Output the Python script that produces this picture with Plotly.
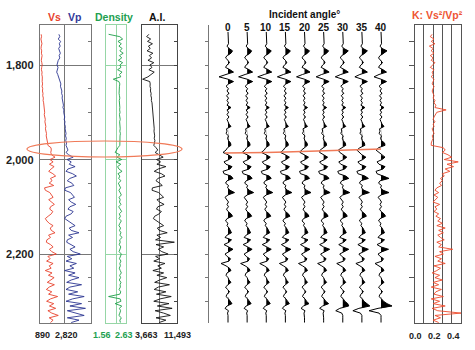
import plotly.graph_objects as go

# ---------------- data ----------------
log_depth = list(range(1735, 2350, 5))      # m, 123 samples
trace_depth = list(range(1730, 2350, 5))    # m, 124 samples

vs = [980, 1010, 960, 1000, 1040, 990, 970, 1020, 1000, 1050,
      1010, 990, 1030, 1060, 1020, 1000, 1050, 1030, 1070, 1040,
      1060, 1090, 1050, 1100, 1080, 1120, 1100, 1150, 1130, 1170,
      1200, 1180, 1230, 1250, 1220, 1280, 1300, 1270, 1320, 1340,
      1310, 1360, 1390, 1370, 1420, 1450, 1480, 1500, 1740, 1760,
      1720, 1780, 2050, 1660, 1900, 1620, 1980, 1750, 1560, 1880,
      2100, 1700, 1820, 1600, 1950, 1240, 1300, 1650, 1780, 1900,
      1560, 1820, 2000, 1700, 1640, 1880, 1760, 1520, 1300, 1420,
      1600, 1900, 1680, 1760, 2050, 1550, 1700, 1420, 1380, 1700,
      1900, 1620, 1800, 2150, 1500, 1680, 1400, 1900, 1600, 1750,
      1300, 1820, 1540, 1980, 1700, 1450, 2000, 1600, 1380, 1800,
      1550, 2250, 1700, 1400, 1950, 1620, 2100, 1500, 1800, 2300,
      1600, 1900, 1700]

vp = [2350, 2420, 2300, 2480, 2380, 2450, 2330, 2400, 2460, 2370,
      2420, 2300, 2250, 2200, 2280, 2230, 2180, 2260, 2320, 2400,
      2450, 2500, 2470, 2540, 2580, 2560, 2620, 2600, 2650, 2680,
      2700, 2660, 2740, 2720, 2780, 2800, 2760, 2820, 2790, 2850,
      2830, 2870, 2900, 2860, 2920, 2880, 2940, 2900, 2950, 3050,
      2900, 3100, 3450, 2980, 3300, 3150, 3600, 3050, 2900, 3400,
      3700, 3200, 3000, 3350, 3500, 2850, 2800, 3250, 3400, 3550,
      3100, 3300, 3650, 3200, 3050, 3450, 3300, 2900, 2800, 3100,
      3350, 3600, 3150, 3300, 3900, 3100, 3400, 3000, 2950, 3300,
      3600, 3200, 3450, 4000, 3000, 3350, 2900, 3700, 3200, 3500,
      2800, 3600, 3100, 3900, 3300, 2950, 4100, 3200, 2900, 3800,
      3100, 4300, 3400, 2900, 4100, 3200, 4400, 3000, 3700, 4300,
      3000, 3900, 3300]

density = [1.70, 2.30, 2.45, 2.20, 2.38, 2.25, 2.42, 2.30, 2.48, 2.28,
           2.40, 2.22, 2.45, 2.30, 2.36, 2.18, 2.42, 2.28, 2.35, 1.95,
           2.25, 2.30, 2.28, 2.27, 2.29, 2.26, 2.28, 2.30, 2.27, 2.29,
           2.28, 2.30, 2.29, 2.31, 2.28, 2.30, 2.32, 2.29, 2.31, 2.30,
           2.32, 2.30, 2.33, 2.31, 2.30, 2.32, 2.31, 2.30, 2.20, 2.12,
           2.05, 2.30, 2.15, 2.40, 2.10, 2.35, 2.18, 2.25, 2.42, 2.20,
           2.30, 2.24, 2.36, 2.22, 2.28, 2.34, 2.25, 2.30, 2.38, 2.26,
           2.32, 2.28, 2.36, 2.24, 2.30, 2.40, 2.27, 2.33, 2.26, 2.38,
           2.30, 2.25, 2.34, 2.28, 2.36, 2.30, 2.42, 2.29, 2.32, 2.27,
           2.35, 2.30, 2.26, 2.38, 2.31, 2.28, 2.36, 2.30, 2.33, 2.27,
           2.32, 2.38, 2.29, 2.34, 2.27, 2.36, 2.31, 2.33, 2.26, 2.35,
           2.30, 1.70, 2.32, 2.36, 2.05, 2.40, 2.28, 2.34, 2.30, 2.25,
           2.38, 2.30, 2.33]

ai = [5200, 4700, 5600, 4900, 6000, 5100, 5500, 4800, 6100, 5300,
      5800, 5000, 6300, 5400, 5900, 5200, 6400, 5600, 5000, 3800,
      5400, 5500, 5450, 5600, 5550, 5700, 5650, 5800, 5750, 5900,
      5950, 6000, 6100, 6050, 6200, 6150, 6300, 6250, 6350, 6300,
      6400, 6350, 6450, 6500, 6400, 6550, 6450, 6300, 6800, 7200,
      6600, 7500, 8400, 6900, 7800, 7000, 9000, 7300, 6400, 8000,
      8800, 7200, 6800, 7600, 8200, 6000, 5900, 7400, 7900, 8500,
      7000, 7600, 8600, 7200, 6900, 8000, 7500, 6500, 6200, 7000,
      7700, 8500, 7100, 7500, 9300, 7000, 7800, 6700, 10900, 6800,
      8500, 7300, 8100, 9500, 6700, 7600, 6300, 8800, 7200, 8000,
      6100, 8500, 7000, 9200, 7600, 6500, 9800, 7300, 6400, 9000,
      6900, 10200, 7700, 6300, 9700, 7100, 10400, 6600, 8500, 10000,
      6800, 9000, 7500]

k_ratio = [0.19, 0.17, 0.21, 0.18, 0.22, 0.16, 0.20, 0.18, 0.21, 0.17,
           0.20, 0.18, 0.22, 0.19, 0.17, 0.21, 0.19, 0.20, 0.18, 0.21,
           0.20, 0.19, 0.21, 0.20, 0.19, 0.20, 0.21, 0.20, 0.22, 0.21,
           0.23, 0.22, 0.34, 0.24, 0.22, 0.21, 0.20, 0.22, 0.20, 0.21,
           0.19, 0.20, 0.21, 0.19, 0.20, 0.19, 0.18, 0.18, 0.31, 0.33,
           0.30, 0.36, 0.40, 0.32, 0.47, 0.35, 0.42, 0.33, 0.38, 0.30,
           0.32, 0.28, 0.30, 0.27, 0.29, 0.24, 0.22, 0.26, 0.21, 0.25,
           0.23, 0.20, 0.27, 0.22, 0.24, 0.21, 0.26, 0.23, 0.28, 0.25,
           0.30, 0.24, 0.33, 0.26, 0.31, 0.25, 0.28, 0.32, 0.24, 0.29,
           0.26, 0.41, 0.27, 0.31, 0.22, 0.29, 0.25, 0.33, 0.21, 0.28,
           0.24, 0.19, 0.27, 0.22, 0.30, 0.20, 0.26, 0.18, 0.29, 0.23,
           0.21, 0.31, 0.18, 0.27, 0.20, 0.33, 0.19, 0.25, 0.50, 0.22,
           0.28, 0.20, 0.26]

angles = [0, 5, 10, 15, 20, 25, 30, 35, 40]

trace_0 = [0, 0, 0, 0, 0, 0.5, -1, 1, 4.5, 3,
           -1, -2.5, 0, 1.5, -1, -2.5, 2, 5.5, -2, -9,
           0, 5.5, 0.5, -2, 0.5, -1, 1, -1.5, 0.5, -1,
           0.5, -1, 3, -1, 0.5, -1, 1, -1, 0, 1,
           3, -1.5, -1, -2, 0.5, -0.5, 0.5, 2.5, 3, -0.5,
           -2, -5, 0, 4, 1, -4, -2, 4, 2, -5,
           -4, 3, 5, -1, -2.5, 0.5, -0.5, 2, 6.5, 0,
           -3, -1, 0.5, -1, 0.5, -1.5, 0, 3, 4.5, -1,
           -2.5, 0, -1, 1, 2, 3.5, -1, -3, 3.5, 1,
           -4, 0, 5, 1, -3, -1, 2.5, 1, -7, -2,
           1.5, 3, -1, -2, 0, 1, 3, 0, -2.5, -0.5,
           1.5, -1, -2, 0.5, 2, 4, -1, -3, 0.5, -0.5,
           0, 0, 0, 0]

trace_5 = [0, 0, 0, 0, 0, 0.5, -1, 1, 4.5, 3,
           -1, -2.5, 0, 1.5, -1, -2.5, 2, 5.5, -2, -8.5,
           0, 5.5, 0.5, -2, 0.5, -1, 1, -1.5, 0.5, -1,
           0.5, -1, 3, -1, 0.5, -1, 1, -1, 0, 1,
           3, -1.5, -1, -2, 0.5, -0.5, 0.5, 2.5, 3, -0.5,
           -2, -5, 0, 4, 1, -4, -2, 4, 2, -5,
           -4, 3, 5, -1, -2.5, 0.5, -0.5, 2, 6.5, 0,
           -3, -1, 0.5, -1, 0.5, -1.5, 0, 3, 4.5, -1,
           -2.5, 0, -1, 1, 2, 3.5, -1, -3, 3.5, 1,
           -4, 0, 5, 1, -3, -1, 2.5, 1, -6.5, -2,
           1.5, 3, -1, -2, 0, 1, 3, 0, -2.5, -0.5,
           1.5, -1, -2, 0.5, 2, 4, -1, -3, 0.5, -0.5,
           0, 0, 0, 0]

trace_10 = [0, 0, 0, 0, 0, 0.5, -1, 1, 5, 3,
            -1, -2.5, 0, 1.5, -1, -2.5, 2, 5.5, -2, -8.5,
            0, 5.5, 0.5, -2, 0.5, -1, 1, -1.5, 0.5, -1,
            0.5, -1, 3, -1, 0.5, -1, 1, -1, 0, 1,
            3, -1.5, -1, -2, 0.5, -0.5, 0.5, 2.5, 3, -0.5,
            -2, -5, 0, 4, 1, -4, -2, 4, 2, -5,
            -4, 3, 5, -1, -2.5, 0.5, -0.5, 2, 6.5, 0,
            -3, -1, 0.5, -1, 0.5, -1.5, 0, 3, 4.5, -1,
            -2.5, 0, -1, 1, 2, 3.5, -1, -3, 3.5, 1,
            -4, 0, 5, 1, -3, -1, 2.5, 1, -6.5, -2,
            1.5, 3, -1, -2, 0, 1, 3, 0, -2.5, -0.5,
            1.5, -1, -2, 0.5, 2, 4, -1, -3, 0.5, -0.5,
            0, 0, 0, 0]

trace_15 = [0, 0, 0, 0, 0, 0.5, -1, 1, 5, 3,
            -1, -2.5, 0, 1.5, -1, -2.5, 2, 5.5, -2, -8,
            0, 5.5, 0.5, -2, 0.5, -1, 1, -1.5, 0.5, -1,
            0.5, -1, 3, -1, 0.5, -1, 1, -1, 0, 1,
            3, -1.5, -1, -2, 0.5, -0.5, 0.5, 2.5, 3, -0.5,
            -2, -5, 0, 4, 1, -4, -2, 4, 2, -5,
            -4, 3, 5, -1, -2.5, 0.5, -0.5, 2, 6.5, 0,
            -3, -1, 0.5, -1, 0.5, -1.5, 0, 3, 4.5, -1,
            -2.5, 0, -1, 1, 2, 3.5, -1, -3, 3.5, 1,
            -4, 0, 5.5, 1, -3, -1, 2.5, 1, -6, -2,
            1.5, 3, -1, -2, 0, 1, 3, 0, -2.5, -0.5,
            1.5, -1, -2, 0.5, 2, 4, -1, -3, 0.5, -0.5,
            0, 0, 0, 0]

trace_20 = [0, 0, 0, 0, 0, 0.5, -1, 1, 5, 3,
            -1, -2.5, 0, 1.5, -1, -2.5, 2, 5.5, -2, -8,
            0, 5.5, 0.5, -2, 0.5, -1, 1, -1.5, 0.5, -1,
            0.5, -1, 3, -1, 0.5, -1, 1, -1, 0, 1,
            3, -1.5, -1, -2, 0.5, -0.5, 0.5, 2.5, 3, -0.5,
            -3, -4.5, 0, 4, 1, -4, -2, 4, 2, -5,
            -4, 3, 5, -1, -2.5, 0.5, -0.5, 2, 6.5, 0,
            -3, -1, 0.5, -1, 0.5, -1.5, 0, 3, 4.5, -1,
            -2.5, 0, -1, 1, 2, 3.5, -1, -3, 3.5, 1,
            -4, 0, 5.5, 1, -3, -1, 2.5, 1, -6, -2,
            1.5, 3, -1, -2, 0, 1, 3, 0, -2.5, -0.5,
            1.5, -1, -2, 0.5, 2, 4.5, -1, -3.5, 0.5, -0.5,
            0, 0, 0, 0]

trace_25 = [0, 0, 0, 0, 0, 0.5, -1, 1, 5, 3,
            -1, -2.5, 0, 1.5, -1, -2.5, 2, 5.5, -2, -7.5,
            0, 5.5, 0.5, -2, 0.5, -1, 1, -1.5, 0.5, -1,
            0.5, -1, 3, -1, 0.5, -1, 1, -1, 0, 1,
            3, -1.5, -1, -2, 0.5, -0.5, 0.5, 2.5, 3, -0.5,
            -3.5, -4, 0, 4, 1, -4, -2, 4, 2, -5,
            -4, 3, 5.5, -1, -2.5, 0.5, -0.5, 2, 6.5, 0,
            -3, -1, 0.5, -1, 0.5, -1.5, 0, 3, 4.5, -1,
            -2.5, 0, -1, 1, 2, 3.5, -1, -3, 3.5, 1,
            -4, 0, 6, 1, -3, -1, 2.5, 1, -6, -2,
            1.5, 3, -1, -2, 0, 1, 3, 0, -2.5, -0.5,
            1.5, -1, -2, 0.5, 2, 5, -1, -4, 0.5, -0.5,
            0, 0, 0, 0]

trace_30 = [0, 0, 0, 0, 0, 0.5, -1, 1, 5.5, 3,
            -1, -2.5, 0, 1.5, -1, -2.5, 2, 5.5, -2, -7.5,
            0, 5.5, 0.5, -2, 0.5, -1, 1, -1.5, 0.5, -1,
            0.5, -1, 3, -1, 0.5, -1, 1, -1, 0, 1,
            3, -1.5, -1, -2, 0.5, -0.5, 0.5, 2.5, 3, -1.5,
            -4.5, -3, 0, 4, 1, -4, -2, 4, 2, -5,
            -4, 3, 6, -1, -2.5, 0.5, -0.5, 2, 7, 0,
            -3, -1, 0.5, -1, 0.5, -1.5, 0, 3, 4.5, -1,
            -2.5, 0, -1, 1, 2, 3.5, -1, -3, 3.5, 1,
            -4, 0, 6, 1, -3, -1, 2.5, 1, -6, -2,
            1.5, 3, -1, -2, 0, 1, 3, 0, -2.5, -0.5,
            1.5, -1, -2, 0.5, 2, 5, 6, -3, -7, -1,
            0, 0, 0, 0]

trace_35 = [0, 0, 0, 0, 0, 0.5, -1, 1, 5.5, 3,
            -1, -2.5, 0, 1.5, -1, -2.5, 2, 5.5, -2, -7,
            0, 5.5, 0.5, -2, 0.5, -1, 1, -1.5, 0.5, -1,
            0.5, -1, 3, -1, 0.5, -1, 1, -1, 0, 1,
            3, -1.5, -1, -2, 0.5, -0.5, 0.5, 2.5, 3, -2,
            -5, -2.5, 0, 4, 1, -4, -2, 4, 2, -5,
            -4, 3, 6.5, -1, -2.5, 0.5, -0.5, 2, 7.5, 0,
            -3, -1, 0.5, -1, 0.5, -1.5, 0, 3, 4.5, -1,
            -2.5, 0, -1, 1, 2, 3.5, -1, -3, 3.5, 1,
            -4, 0, 6.5, 1, -3, -1, 2.5, 1, -6, -2,
            1.5, 3, -1, -2, 0, 1, 3, 0, -2.5, -0.5,
            1.5, -1, -2, 0.5, 2, 5, 8, -3, -9, -1.5,
            0, 0, 0, 0]

trace_40 = [0, 0, 0, 0, 0, 0.5, -1, 1, 6, 3,
            -1, -2.5, 0, 1.5, -1, -2.5, 2, 5.5, -2, -7,
            0, 5.5, 0.5, -2, 0.5, -1, 1, -1.5, 0.5, -1,
            0.5, -1, 3, -1, 0.5, -1, 1, -1, 0, 1,
            3, -1.5, -1, -2, 0.5, -0.5, 0.5, 3.5, 4, -2.5,
            -5, -2, 0, 4, 1, -4, -2, 4, 2, -5,
            -4, 3, 8, -1, -2.5, 0.5, -0.5, 2, 8, 0,
            -3, -1, 0.5, -1, 0.5, -1.5, 0, 3, 4.5, -1,
            -2.5, 0, -1, 1, 2, 3.5, -1, -3, 3.5, 1,
            -4, 0, 7.5, 1, -3, -1, 2.5, 1, -6, -2,
            1.5, 3, -1, -2, 0, 1, 3, 0, -2.5, -0.5,
            1.5, -1, -2, 0.5, 2.5, 6, 11, -3, -12, -2,
            0, 0, 0, 0]

seismic = [trace_0, trace_5, trace_10, trace_15, trace_20,
           trace_25, trace_30, trace_35, trace_40]

horizon_angle = [-0.8, 0, 5, 10, 15, 20, 25, 30, 35, 40]
horizon_depth = [1986, 1986, 1985.5, 1985, 1984, 1982.5, 1981, 1980, 1979, 1978]

depth_labels = [1800, 2000, 2200]

# ---------------- figure ----------------
W, H = 475, 350
FONT = "Liberation Sans, Arial, sans-serif"
Y_TOP, Y_BOT = 25, 323
YR = [2346, 1715.3]
ydom = [1 - Y_BOT / H, 1 - Y_TOP / H]

def xd(a, b):
    return [a / W, b / W]

RED = "#e8432e"
BLUE = "#2b3592"
GREEN = "#1f9e4a"
LGREEN = "#96d6a6"
ORANGE = "#f07a58"
GREY = "#777777"

fig = go.Figure()

# Vs / Vp
fig.add_trace(go.Scatter(x=vs, y=log_depth, mode="lines",
                         line=dict(color=RED, width=0.9), xaxis="x", yaxis="y"))
fig.add_trace(go.Scatter(x=vp, y=log_depth, mode="lines",
                         line=dict(color=BLUE, width=0.9), xaxis="x", yaxis="y"))
# Density
fig.add_trace(go.Scatter(x=density, y=log_depth, mode="lines",
                         line=dict(color=GREEN, width=0.9), xaxis="x2", yaxis="y2"))
# AI
fig.add_trace(go.Scatter(x=ai, y=log_depth, mode="lines",
                         line=dict(color="#111111", width=0.9), xaxis="x3", yaxis="y3"))

# Seismic traces
amp_scale = 1 / 3.825
for ang, tr in zip(angles, seismic):
    fx, fy = [ang], [trace_depth[0]]
    for i, a in enumerate(tr):
        d = trace_depth[i]
        if i > 0:
            a0 = tr[i - 1]
            if (a0 > 0) != (a > 0) and a0 != a:
                t = a0 / (a0 - a)
                dc = trace_depth[i - 1] + t * (d - trace_depth[i - 1])
                fx.append(ang)
                fy.append(dc)
        fx.append(ang + max(a, 0) * amp_scale)
        fy.append(d)
    fx.append(ang)
    fy.append(trace_depth[-1])
    fig.add_trace(go.Scatter(x=fx, y=fy, mode="lines", fill="toself",
                             fillcolor="black", line=dict(width=0, color="black"),
                             xaxis="x4", yaxis="y4"))
    fig.add_trace(go.Scatter(x=[ang + a * amp_scale for a in tr], y=trace_depth,
                             mode="lines", line=dict(color="black", width=1),
                             xaxis="x4", yaxis="y4"))

fig.add_trace(go.Scatter(x=horizon_angle, y=horizon_depth, mode="lines",
                         line=dict(color=ORANGE, width=1.5), xaxis="x4", yaxis="y4"))

# K
fig.add_trace(go.Scatter(x=k_ratio, y=log_depth, mode="lines",
                         line=dict(color="#ee4a2a", width=0.9), xaxis="x5", yaxis="y5"))

common_y = dict(range=YR, domain=ydom, zeroline=False, showticklabels=False)

layout = dict(
    width=W, height=H, margin=dict(l=0, r=0, t=0, b=0),
    paper_bgcolor="white", plot_bgcolor="rgba(0,0,0,0)",
    showlegend=False, hovermode=False,
    font=dict(family=FONT),
    xaxis=dict(domain=xd(40, 90.5), range=[890, 4790], anchor="y",
               showline=True, mirror=True, linecolor=GREY, linewidth=1,
               tickvals=[2820], showgrid=True, gridcolor=GREY, gridwidth=1,
               showticklabels=False, ticks="", zeroline=False),
    yaxis=dict(**common_y, anchor="x", side="right", showline=True, mirror=True,
               linecolor=GREY, linewidth=1, tick0=1800, dtick=200,
               showgrid=True, gridcolor=GREY, ticks="inside", ticklen=3,
               tickcolor=GREY,
               minor=dict(dtick=50, tick0=1800, ticks="inside", ticklen=3,
                          tickcolor=GREY, showgrid=False)),
    xaxis2=dict(domain=xd(106, 126), range=[1.56, 2.63], anchor="y2",
                showline=True, mirror=True, linecolor=LGREEN, linewidth=1,
                tickvals=[2.095], showgrid=True, gridcolor=LGREEN,
                showticklabels=False, ticks="", zeroline=False),
    yaxis2=dict(**common_y, anchor="x2", showline=True, mirror=True,
                linecolor=LGREEN, linewidth=1, tick0=1800, dtick=200,
                showgrid=True, gridcolor=LGREEN, ticks=""),
    xaxis3=dict(domain=xd(142, 177), range=[3663, 11493], anchor="y3",
                showline=True, mirror=True, linecolor="#444444", linewidth=1,
                tickvals=[7578], showgrid=True, gridcolor=GREY,
                showticklabels=False, ticks="", zeroline=False),
    yaxis3=dict(**common_y, anchor="x3", side="right", showline=True, mirror=True,
                linecolor="#444444", linewidth=1, tick0=1800, dtick=200,
                showgrid=True, gridcolor=GREY, ticks="inside", ticklen=3,
                tickcolor="#444444",
                minor=dict(dtick=50, tick0=1800, ticks="inside", ticklen=3,
                           tickcolor="#444444", showgrid=False)),
    xaxis4=dict(domain=xd(209, 412), range=[-4.97, 48.1], anchor="y4",
                visible=False),
    yaxis4=dict(**common_y, anchor="x4", showline=True, linecolor=GREY,
                linewidth=1, showgrid=False, tick0=1800, dtick=50,
                ticks="outside", ticklen=3, tickcolor=GREY),
    xaxis5=dict(domain=xd(414.5, 461), range=[0, 0.5], anchor="y5",
                showline=True, mirror=True, linecolor="#555555", linewidth=1,
                tickvals=[0.1, 0.2, 0.3, 0.4], showgrid=True, gridcolor="#555555",
                showticklabels=False, ticks="", zeroline=False),
    yaxis5=dict(**common_y, anchor="x5", showline=True, mirror=True,
                linecolor="#555555", linewidth=1, showgrid=False, tick0=1800,
                dtick=50, ticks="outside", ticklen=5, tickcolor="#555555"),
)
fig.update_layout(**layout)

# ellipse highlight
fig.add_shape(type="circle", xref="paper", yref="paper",
              x0=27 / W, x1=182 / W, y0=1 - 157 / H, y1=1 - 141 / H,
              line=dict(color=ORANGE, width=1.2), fillcolor="rgba(0,0,0,0)")

def ann(text, x, y, color="#111111", size=10, xanchor="center"):
    fig.add_annotation(text=text, x=x / W, y=1 - y / H, xref="paper", yref="paper",
                       showarrow=False, xanchor=xanchor, yanchor="middle",
                       font=dict(family=FONT, size=size, color=color))

# headers
ann("<b>Vs</b>", 54, 17, RED, 10.5)
ann("<b>Vp</b>", 74, 17, "#333a99", 10.5)
ann("<b>Density</b>", 114, 17, "#22a050", 10.5)
ann("<b>A.I.</b>", 157, 17, "#111111", 10.5)
ann("<b>Incident angle°</b>", 304, 15, "#111111", 10)
ann("<b>K: Vs²/Vp²</b>", 437, 15, "#ee5533", 10.5)
for ang in angles:
    ann("<b>%d</b>" % ang, 228 + ang * 3.825, 27, "#111111", 10)

# depth labels
for d in depth_labels:
    ann("<b>{:,}</b>".format(d), 36, 65 + (d - 1800) * 0.4725, "#222222", 11, "right")

# bottom scale labels
ann("<b>890</b>", 42, 335, "#222222", 9)
ann("<b>2,820</b>", 66, 335, "#222222", 9)
ann("<b>1.56</b>", 102, 335, "#22a050", 9)
ann("<b>2.63</b>", 123.5, 335, "#22a050", 9)
ann("<b>3,663</b>", 146.5, 335, "#222222", 9)
ann("<b>11,493</b>", 177, 335, "#222222", 9)
ann("<b>0.0</b>", 415, 336, "#222222", 9)
ann("<b>0.2</b>", 434, 336, "#222222", 9)
ann("<b>0.4</b>", 453, 336, "#222222", 9)

fig.write_html("out.html")
